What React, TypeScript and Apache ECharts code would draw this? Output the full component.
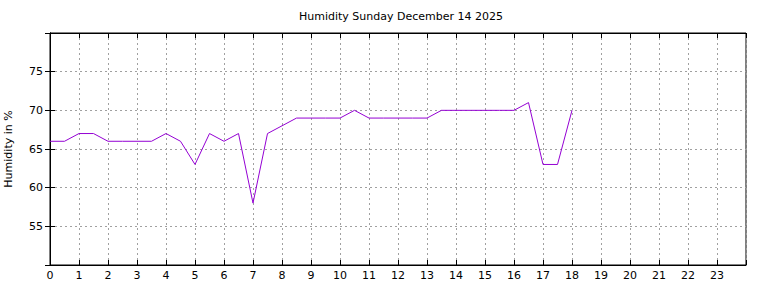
import React, { useEffect, useRef } from "react";
import * as echarts from "echarts";

const titleText = "Humidity Sunday December 14 2025";
const yAxisTitle = "Humidity in %";
const hours = [0, 0.5, 1, 1.5, 2, 2.5, 3, 3.5, 4, 4.5, 5, 5.5, 6, 6.5, 7, 7.5, 8, 8.5, 9, 9.5, 10, 10.5, 11, 11.5, 12, 12.5, 13, 13.5, 14, 14.5, 15, 15.5, 16, 16.5, 17, 17.5, 18];
const humidity = [66, 66, 67, 67, 66, 66, 66, 66, 67, 66, 63, 67, 66, 67, 58, 67, 68, 69, 69, 69, 69, 70, 69, 69, 69, 69, 69, 70, 70, 70, 70, 70, 70, 71, 63, 63, 70];
const xMin = 0;
const xMax = 24;
const yMin = 50;
const yMax = 80;

export default function App() {
  const ref = useRef<HTMLDivElement>(null);
  useEffect(() => {
    if (!ref.current) return;
    const chart = echarts.init(ref.current, null, { renderer: "svg" });
    const font = "DejaVu Sans";
    const grid = { color: "#a0a0a0", type: [2, 3] as number[], width: 1 };
    chart.setOption({
      animation: false,
      backgroundColor: "#fff",
      title: {
        text: titleText,
        left: 396,
        top: 6,
        textAlign: "center",
        textStyle: { fontFamily: font, fontSize: 11, fontWeight: "normal", color: "#000" },
      },
      grid: {
        left: 50, right: 22, top: 33, bottom: 23,
        containLabel: false, outerBoundsMode: "none",
        show: true, borderColor: "#000", borderWidth: 1, backgroundColor: "transparent",
      },
      xAxis: [
        {
          type: "value", min: xMin, max: xMax, interval: 1, position: "bottom",
          axisLine: { lineStyle: { color: "#000" } },
          axisTick: { inside: true, length: 5, lineStyle: { color: "#000" } },
          axisLabel: {
            margin: 5, fontFamily: font, fontSize: 11, color: "#000",
            formatter: (v: number) => (v >= 24 ? "" : String(v)),
          },
          splitLine: { show: true, lineStyle: grid },
        },
        {
          type: "value", min: xMin, max: xMax, interval: 1, position: "top",
          axisLine: { lineStyle: { color: "#000" } },
          axisTick: { inside: true, length: 5, lineStyle: { color: "#000" } },
          axisLabel: { show: false },
          splitLine: { show: false },
        },
      ],
      yAxis: [
        {
          type: "value", min: yMin, max: yMax, interval: 5, position: "left",
          name: yAxisTitle, nameLocation: "middle", nameGap: 36, nameRotate: 90,
          nameTextStyle: { fontFamily: font, fontSize: 11, color: "#000" },
          axisLine: { show: true, lineStyle: { color: "#000" } },
          axisTick: { show: true, inside: true, length: 5, lineStyle: { color: "#000" } },
          axisLabel: {
            margin: 7, fontFamily: font, fontSize: 11, color: "#000",
            formatter: (v: number) => (v <= 50 || v >= 80 ? "" : String(v)),
          },
          splitLine: { show: true, lineStyle: grid },
        },
        {
          type: "value", min: yMin, max: yMax, interval: 5, position: "right",
          axisLine: { show: true, lineStyle: { color: "#000" } },
          axisTick: { show: true, inside: true, length: 5, lineStyle: { color: "#000" } },
          axisLabel: { show: false },
          splitLine: { show: false },
        },
      ],
      series: [
        {
          type: "line",
          data: hours.map((h, i) => [h, humidity[i]]),
          showSymbol: false,
          lineStyle: { color: "#9400d3", width: 1 },
          itemStyle: { color: "#9400d3" },
        },
      ],
    });
    return () => chart.dispose();
  }, []);
  return <div ref={ref} style={{ position: "absolute", left: 0, top: 0, width: 768, height: 288 }} />;
}
